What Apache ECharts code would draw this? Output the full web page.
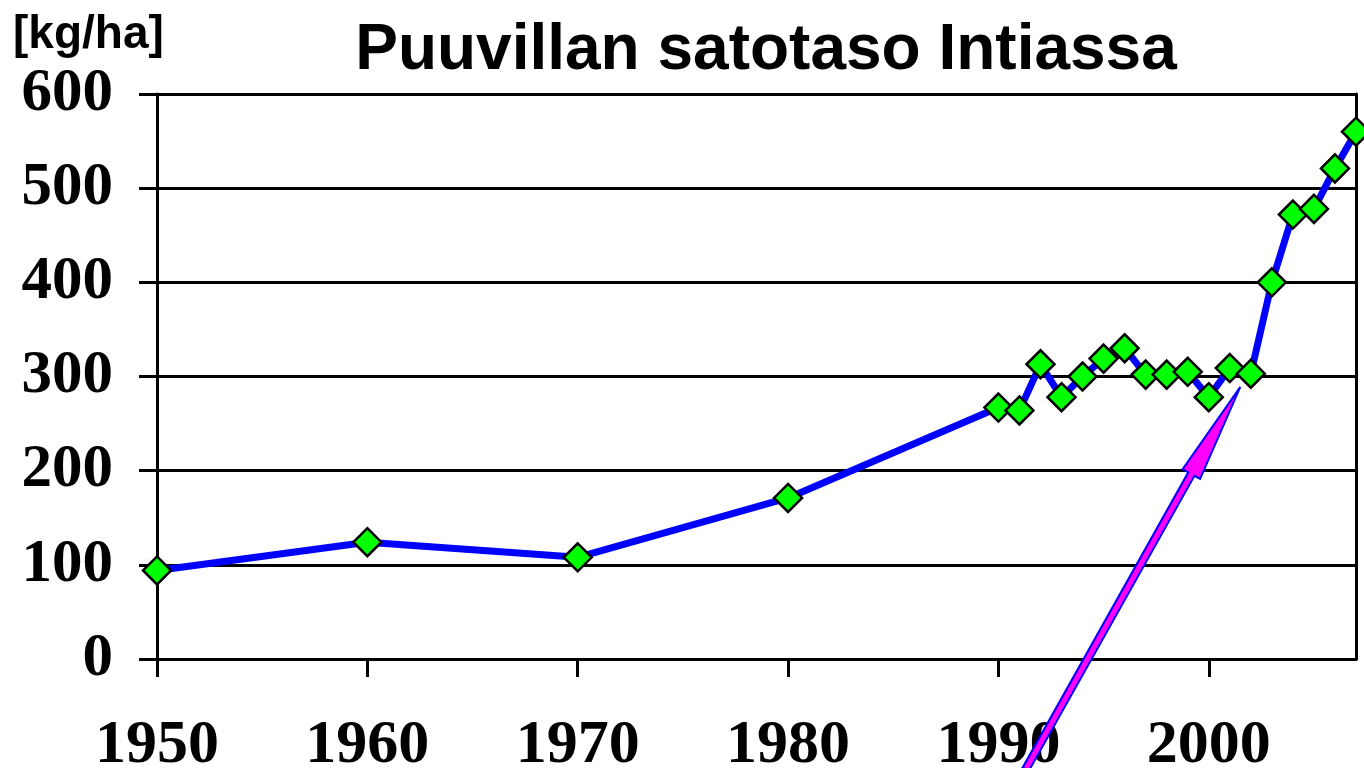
<!DOCTYPE html>
<html>
<head>
<meta charset="utf-8">
<script src="https://cdn.jsdelivr.net/npm/echarts@6/dist/echarts.min.js"></script>
<style>html,body{margin:0;padding:0;background:#fff}#c{width:1364px;height:768px}</style>
</head>
<body>
<div id="c"></div>
<script>
const years = [1950,1960,1970,1980,1990,1991,1992,1993,1994,1995,1996,1997,1998,1999,2000,2001,2002,2003,2004,2005,2006,2007];
const yields = [94,124,108,171,267,264,313,278,300,319,330,302,302,305,278,309,303,400,472,478,521,560];
const xTickLabels = [1950,1960,1970,1980,1990,2000];
const yTicks = [0,100,200,300,400,500,600];
const titleText = 'Puuvillan satotaso Intiassa';
const unitText = '[kg/ha]';
// annotation arrow endpoints in data units [year, value]
const arrowTip = [2001.5, 289];
const arrowTail = [1991.3, -117];

const chart = echarts.init(document.getElementById('c'));
const serif = '"Liberation Serif","Times New Roman",serif';
const sans = '"Liberation Sans",Arial,sans-serif';
chart.setOption({
  animation: false,
  backgroundColor: '#fff',
  title: [
    {text: titleText, left: 761, textAlign: 'center', top: 14,
     textStyle: {fontFamily: sans, fontWeight: 'bold', fontSize: 64, color: '#000'}},
    {text: unitText, left: 8, top: 7,
     textStyle: {fontFamily: sans, fontWeight: 'bold', fontSize: 46, color: '#000'}}
  ],
  grid: {left: 157, right: 8, top: 94, bottom: 109, containLabel: false, outerBoundsMode: 'none'},
  xAxis: {
    type: 'value', min: 1950, max: 2007, interval: 10,
    axisLine: {show: true, onZero: false, lineStyle: {color: '#000', width: 3}},
    axisTick: {show: true, length: 18, inside: false, customValues: xTickLabels, lineStyle: {color: '#000', width: 3}},
    axisLabel: {customValues: xTickLabels, margin: 56, formatter: v => String(v),
      fontFamily: serif, fontWeight: 'bold', fontSize: 62, color: '#000'},
    splitLine: {show: false}
  },
  yAxis: [{
    type: 'value', min: 0, max: 600, interval: 100,
    axisLine: {show: true, lineStyle: {color: '#000', width: 3}},
    axisTick: {show: true, length: 18, lineStyle: {color: '#000', width: 3}},
    axisLabel: {margin: 44, fontFamily: serif, fontWeight: 'bold', fontSize: 61, color: '#000'},
    splitLine: {show: true, lineStyle: {color: '#000', width: 3}}
  }, {
    type: 'value', min: 0, max: 600, interval: 100, position: 'right',
    axisLine: {show: true, lineStyle: {color: '#000', width: 3}},
    axisTick: {show: false}, axisLabel: {show: false}, splitLine: {show: false}
  }],
  series: [{
    type: 'line',
    data: years.map((y, i) => [y, yields[i]]),
    lineStyle: {color: '#0000ff', width: 7},
    symbol: 'diamond', symbolSize: 28,
    itemStyle: {color: '#00ff00', borderColor: '#000', borderWidth: 2.5},
    clip: false, z: 3
  }]
});

function drawArrow() {
  const t = chart.convertToPixel({gridIndex: 0}, arrowTip);
  const s = chart.convertToPixel({gridIndex: 0}, arrowTail);
  const dx = t[0] - s[0], dy = t[1] - s[1];
  const L = Math.hypot(dx, dy);
  const ux = dx / L, uy = dy / L, nx = -uy, ny = ux;
  const headLen = 100, headHalf = 10, shaftHalf = 3.5;
  const bx = t[0] - ux * headLen, by = t[1] - uy * headLen;
  const pts = [
    [s[0] + nx * shaftHalf, s[1] + ny * shaftHalf],
    [bx + nx * shaftHalf, by + ny * shaftHalf],
    [bx + nx * headHalf, by + ny * headHalf],
    [t[0], t[1]],
    [bx - nx * headHalf, by - ny * headHalf],
    [bx - nx * shaftHalf, by - ny * shaftHalf],
    [s[0] - nx * shaftHalf, s[1] - ny * shaftHalf]
  ];
  chart.setOption({graphic: [{
    type: 'polygon', z: 10,
    shape: {points: pts},
    style: {fill: '#ff00ff', stroke: '#0000ff', lineWidth: 2}
  }]});
}
drawArrow();
</script>
</body>
</html>
